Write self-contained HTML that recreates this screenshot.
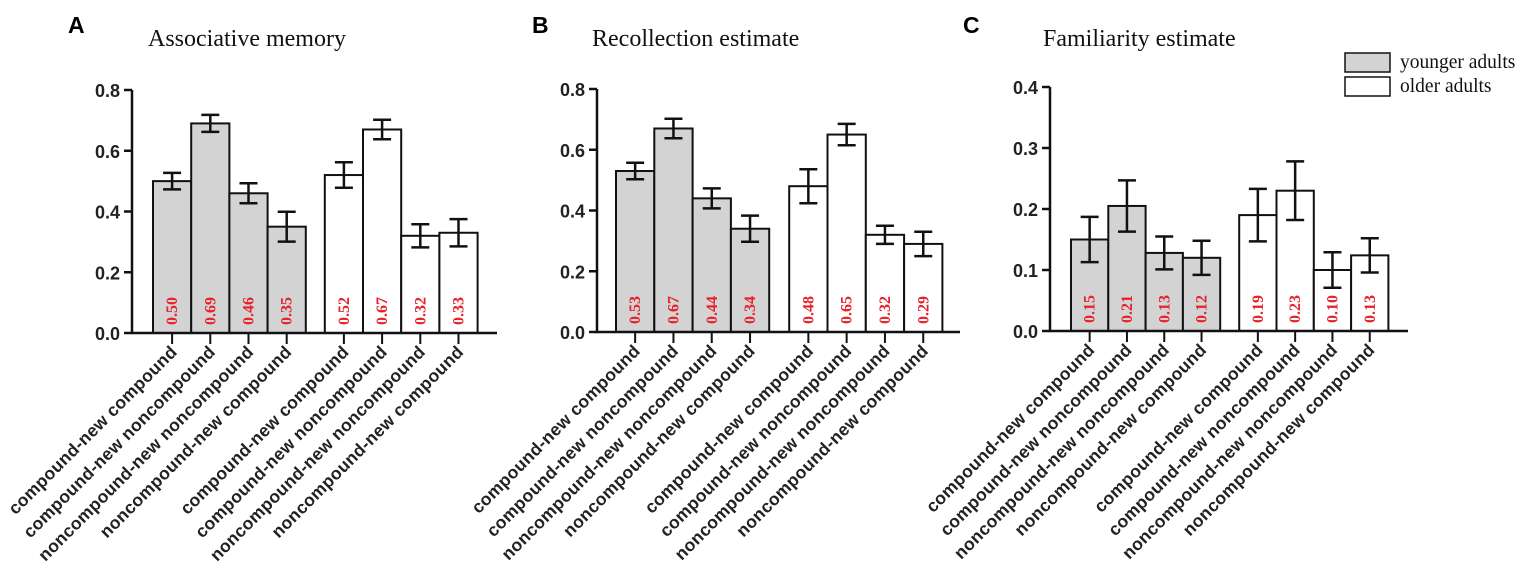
<!DOCTYPE html>
<html><head><meta charset="utf-8"><style>
body{margin:0;background:#fff;}
svg{display:block;}
.tick{font-family:"Liberation Sans",sans-serif;font-weight:bold;font-size:18px;fill:#222;}
.cat{font-family:"Liberation Sans",sans-serif;font-weight:bold;font-size:17.5px;fill:#222;letter-spacing:0.3px;}
.val{font-family:"Liberation Serif",serif;font-weight:bold;font-size:16px;fill:#e8202a;}
.title{font-family:"Liberation Serif",serif;font-size:24px;fill:#111;}
.letter{font-family:"Liberation Sans",sans-serif;font-weight:bold;font-size:23px;fill:#000;}
.leg{font-family:"Liberation Serif",serif;font-size:19.5px;fill:#111;}
</style></head><body>
<svg id="chart" width="1535" height="582" xmlns="http://www.w3.org/2000/svg"></svg>
<script>
const categories=["compound-new compound","compound-new noncompound","noncompound-new noncompound","noncompound-new compound","compound-new compound","compound-new noncompound","noncompound-new noncompound","noncompound-new compound"];
const groups=["younger","younger","younger","younger","older","older","older","older"];
const valuesA=[0.50,0.69,0.46,0.35,0.52,0.67,0.32,0.33];
const errA=[0.027,0.028,0.033,0.049,0.042,0.032,0.038,0.045];
const labelsA=["0.50","0.69","0.46","0.35","0.52","0.67","0.32","0.33"];
const valuesB=[0.53,0.67,0.44,0.34,0.48,0.65,0.32,0.29];
const errB=[0.027,0.032,0.033,0.043,0.056,0.035,0.030,0.040];
const labelsB=["0.53","0.67","0.44","0.34","0.48","0.65","0.32","0.29"];
const valuesC=[0.15,0.205,0.128,0.12,0.19,0.23,0.10,0.124];
const errC=[0.037,0.042,0.027,0.028,0.043,0.048,0.029,0.028];
const labelsC=["0.15","0.21","0.13","0.12","0.19","0.23","0.10","0.13"];
const ticksA=["0.0","0.2","0.4","0.6","0.8"];
const ticksC=["0.0","0.1","0.2","0.3","0.4"];

const NS="http://www.w3.org/2000/svg";
const svg=document.getElementById('chart');
function mk(tag,attrs,parent,text){const e=document.createElementNS(NS,tag);for(const k in attrs)e.setAttribute(k,attrs[k]);if(text!==undefined)e.textContent=text;(parent||svg).appendChild(e);return e;}

function panel(cfg){
  const g=mk('g',{});
  
  
  const y0=cfg.y0,y1=cfg.y1,max=cfg.max;
  const y=v=>y0-(v/max)*(y0-y1);
  const bw=cfg.bw;
  const x=i=>cfg.x0+(i<4?i*bw:4*bw+cfg.gap+(i-4)*bw);
  const L=mk('text',{x:cfg.lx,y:33,class:'letter'},g,cfg.letter);
  
  
  const T=mk('text',{x:cfg.tx,y:46,class:'title'},g,cfg.title);
  
  
  cfg.values.forEach((v,i)=>{
    const r=mk('rect',{x:x(i),y:y(v),width:bw,height:y0-y(v),fill:groups[i]==='younger'?'#d3d3d3':'#fff',stroke:'#111','stroke-width':2},g);
    
    
  });
  cfg.values.forEach((v,i)=>{
    const cx=x(i)+bw/2,e=cfg.err[i];
    const eb=mk('path',{d:`M${cx} ${y(v+e)}V${y(v-e)}M${cx-9} ${y(v+e)}H${cx+9}M${cx-9} ${y(v-e)}H${cx+9}`,stroke:'#111','stroke-width':2.5,fill:'none'},g);
    
    
    const t=mk('text',{x:0,y:0,class:'val',transform:`translate(${cx+5},${y0-8}) rotate(-90)`},g,cfg.labels[i]);
    
    
    const tk=mk('line',{x1:cx,x2:cx,y1:y0,y2:y0+11,stroke:'#111','stroke-width':2},g);
    
    
    const c=mk('text',{x:0,y:0,class:'cat','text-anchor':'end',transform:`translate(${cx+6},${y0+20}) rotate(-45)`},g,categories[i]);
    
    
  });
  const ax=mk('path',{d:`M${cfg.ax} ${y1}V${y0}H${cfg.axEnd}`,stroke:'#111','stroke-width':2.5,fill:'none'},g);
  
  
  cfg.ticks.forEach((t,i)=>{
    const yy=y(parseFloat(t));
    mk('line',{x1:cfg.ax-8,x2:cfg.ax,y1:yy,y2:yy,stroke:'#111','stroke-width':2.5},g);
    const tt=mk('text',{x:cfg.ax-12,y:yy+7,class:'tick','text-anchor':'end'},g,t);
    
    
  });
}
panel({id:'a',letter:'A',title:'Associative memory',lx:68,tx:148,x0:153,bw:38.2,gap:19,y0:333,y1:90,max:0.8,ax:132,axEnd:497,values:valuesA,err:errA,labels:labelsA,ticks:ticksA});
panel({id:'b',letter:'B',title:'Recollection estimate',lx:532,tx:592,x0:616,bw:38.3,gap:20,y0:332,y1:89,max:0.8,ax:597,axEnd:960,values:valuesB,err:errB,labels:labelsB,ticks:ticksA});
panel({id:'c',letter:'C',title:'Familiarity estimate',lx:963,tx:1043,x0:1071,bw:37.3,gap:19,y0:331,y1:87,max:0.4,ax:1050,axEnd:1408,values:valuesC,err:errC,labels:labelsC,ticks:ticksC});
const lg=mk('g',{});


const l1=mk('rect',{x:1345,y:53,width:45,height:19,fill:'#d3d3d3',stroke:'#111','stroke-width':1.5},lg);


const l1t=mk('text',{x:1400,y:68,class:'leg'},lg,'younger adults');


const l2=mk('rect',{x:1345,y:77,width:45,height:19,fill:'#fff',stroke:'#111','stroke-width':1.5},lg);


const l2t=mk('text',{x:1400,y:92,class:'leg'},lg,'older adults');


</script>
</body></html>
